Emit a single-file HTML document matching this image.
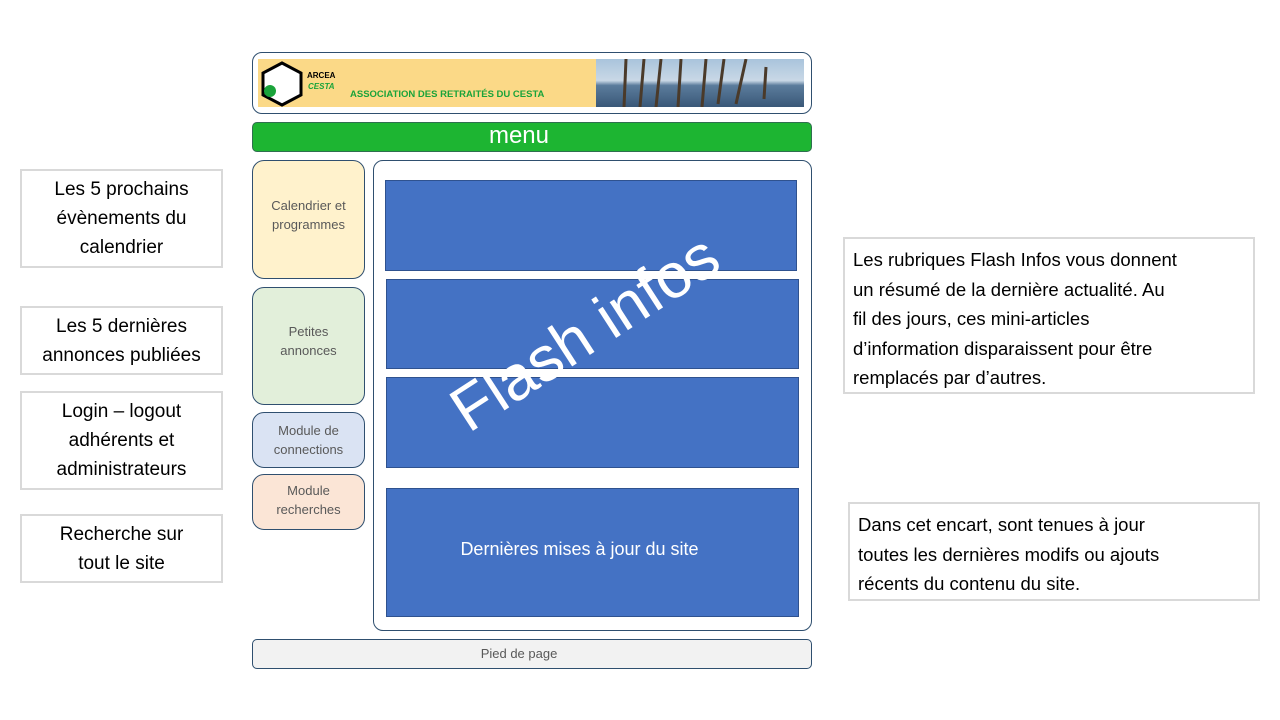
<!DOCTYPE html>
<html><head><meta charset="utf-8"><style>
body{margin:0;width:1280px;height:720px;background:#fff;position:relative;overflow:hidden;font-family:"Liberation Sans",sans-serif}
.a{position:absolute;box-sizing:border-box}
.gb{border:2px solid #d9d9d9;background:#fff;color:#000;font-size:19px;line-height:29px;text-align:center;display:flex;align-items:center;justify-content:center;white-space:nowrap}
.rb{border:1px solid #2f4f6f;border-radius:12px;color:#595959;font-size:13px;line-height:19px;text-align:center}
.bl{background:#4472c4;border:1px solid #2f528f}
.tb{border:2px solid #d9d9d9;background:#fff;font-size:18.5px;line-height:29.5px;padding:6px 8px;white-space:nowrap}
</style></head><body>
<div class="a" style="left:252px;top:52px;width:560px;height:62px;border:1px solid #2f4f6f;border-radius:10px"></div>
<div class="a" style="left:258px;top:59px;width:338px;height:48px;background:#fbd987"></div>
<svg class="a" style="left:260px;top:61px" width="46" height="46"><polygon points="22,2 41,12 41,34 22,44 3,34 3,12" fill="#fff" stroke="#000" stroke-width="3"/><circle cx="10" cy="30" r="6" fill="#1aa33a"/></svg>
<div class="a" style="left:307px;top:71px;font-size:8px;font-weight:bold">ARCEA</div>
<div class="a" style="left:308px;top:82px;font-size:8px;font-weight:bold;font-style:italic;color:#1aa33a">CESTA</div>
<div class="a" style="left:350px;top:89px;font-size:9.5px;font-weight:bold;color:#1aa33a">ASSOCIATION DES RETRAITÉS DU CESTA</div>
<div class="a" style="left:596px;top:59px;width:208px;height:48px;background:linear-gradient(#a9c4dc 0%,#c9d8e6 45%,#5b7c9c 55%,#3a5878 100%)"></div>
<svg class="a" style="left:596px;top:59px" width="208" height="48"><g stroke="#4a3a2a" stroke-width="3"><line x1="30" y1="0" x2="28" y2="48"/><line x1="48" y1="0" x2="44" y2="48"/><line x1="65" y1="0" x2="60" y2="48"/><line x1="85" y1="0" x2="82" y2="48"/><line x1="110" y1="0" x2="106" y2="48"/><line x1="128" y1="0" x2="122" y2="45"/><line x1="150" y1="0" x2="140" y2="45"/><line x1="170" y1="8" x2="168" y2="40"/></g></svg>
<div class="a" style="left:252px;top:122px;width:560px;height:30px;background:#1db532;border:1px solid #2f6f4f;border-radius:5px;color:#fff;font-size:24px;line-height:26px;text-align:center;padding-right:26px">menu</div>

<div class="a gb" style="left:20px;top:169px;width:203px;height:99px">Les 5 prochains<br>évènements du<br>calendrier</div>
<div class="a gb" style="left:20px;top:306px;width:203px;height:69px">Les 5 dernières<br>annonces publiées</div>
<div class="a gb" style="left:20px;top:391px;width:203px;height:99px">Login – logout<br>adhérents et<br>administrateurs</div>
<div class="a gb" style="left:20px;top:514px;width:203px;height:69px">Recherche sur<br>tout le site</div>

<div class="a rb" style="left:252px;top:160px;width:113px;height:119px;background:#fff2cc;padding-top:35px">Calendrier et<br>programmes</div>
<div class="a rb" style="left:252px;top:287px;width:113px;height:118px;background:#e2efda;padding-top:34px">Petites<br>annonces</div>
<div class="a rb" style="left:252px;top:412px;width:113px;height:56px;background:#dae3f3;padding-top:8px">Module de<br>connections</div>
<div class="a rb" style="left:252px;top:474px;width:113px;height:56px;background:#fbe5d6;padding-top:6px">Module<br>recherches</div>

<div class="a" style="left:373px;top:160px;width:439px;height:471px;border:1px solid #2f4f6f;border-radius:10px"></div>
<div class="a bl" style="left:385px;top:180px;width:412px;height:91px"></div>
<div class="a bl" style="left:386px;top:279px;width:413px;height:90px"></div>
<div class="a bl" style="left:386px;top:377px;width:413px;height:91px"></div>
<div class="a bl" style="left:386px;top:488px;width:413px;height:129px;color:#fff;font-size:18px;text-align:center;line-height:121px;padding-right:26px">Dernières mises à jour du site</div>
<div class="a" style="left:585px;top:333px;width:0;height:0"><div style="position:absolute;left:-200px;top:-42px;width:400px;text-align:center;color:#fff;font-size:63px;line-height:84px;transform:rotate(-33deg)">Flash infos</div></div>

<div class="a" style="left:252px;top:639px;width:560px;height:30px;background:#f2f2f2;border:1px solid #2f4f6f;border-radius:5px;color:#595959;font-size:13px;line-height:28px;text-align:center;padding-right:26px">Pied de page</div>

<div class="a tb" style="left:843px;top:237px;width:412px;height:157px">Les rubriques Flash Infos vous donnent<br>un résumé de la dernière actualité. Au<br>fil des jours, ces mini-articles<br>d’information disparaissent pour être<br>remplacés par d’autres.</div>
<div class="a tb" style="left:848px;top:502px;width:412px;height:99px">Dans cet encart, sont tenues à jour<br>toutes les dernières modifs ou ajouts<br>récents du contenu du site.</div>
</body></html>
